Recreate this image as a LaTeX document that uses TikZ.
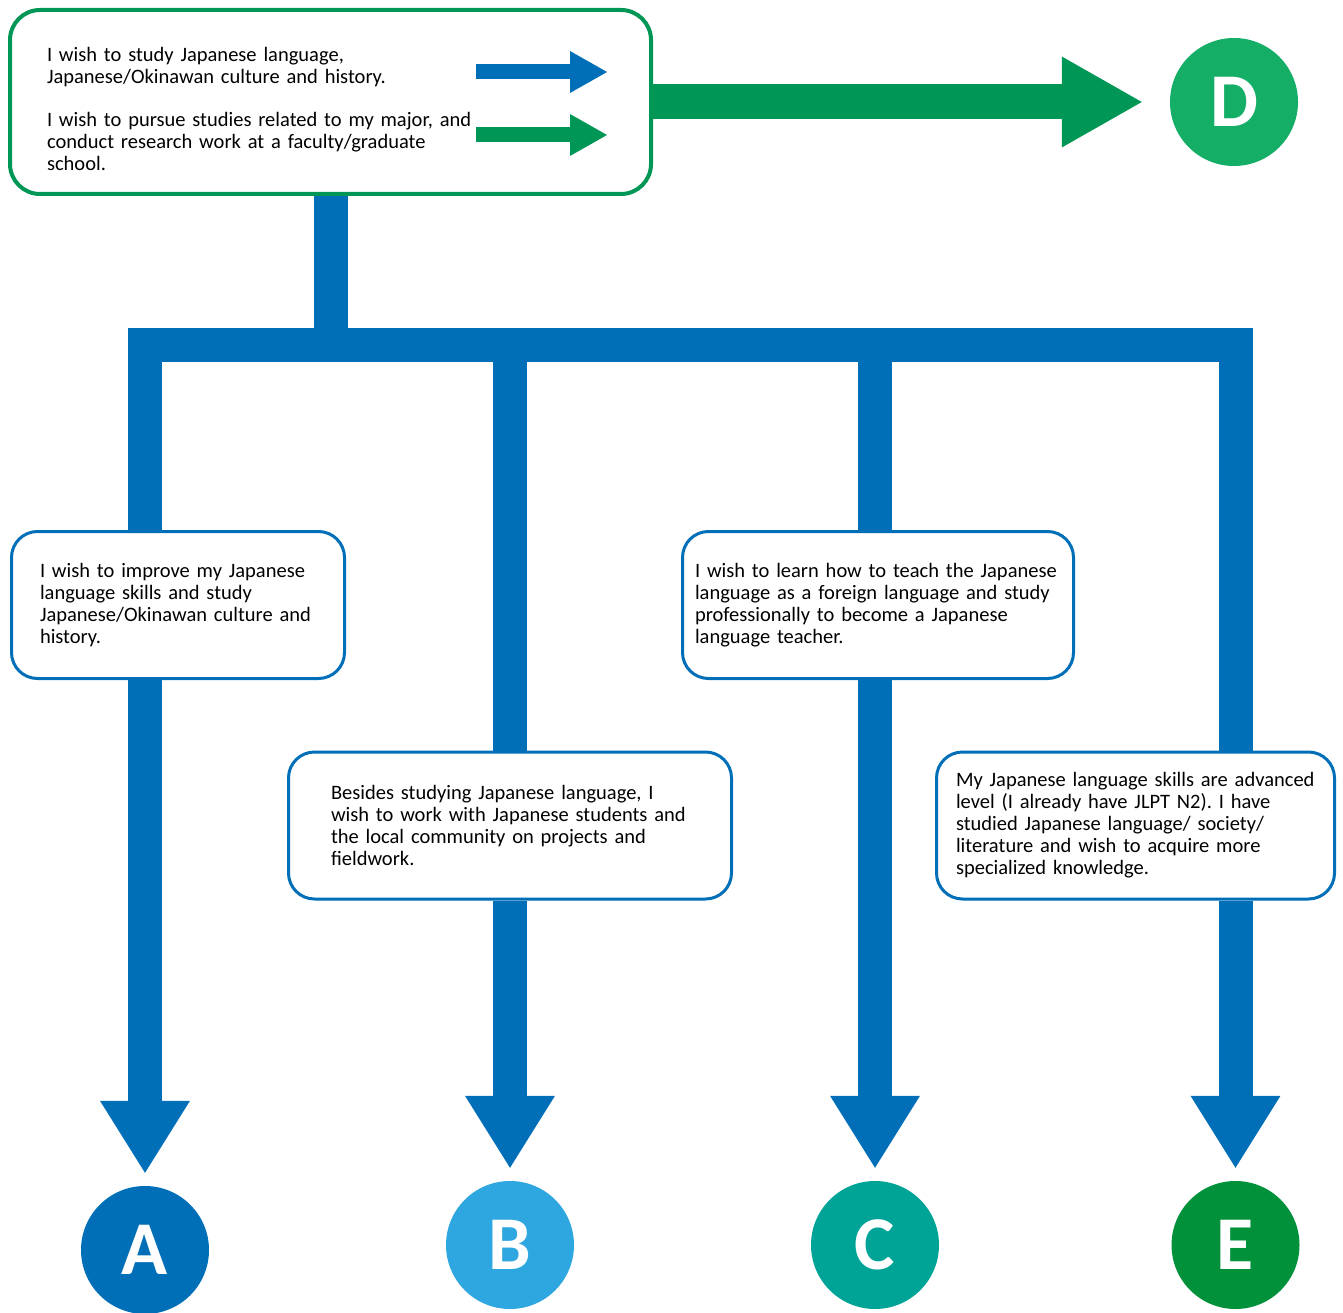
\documentclass[tikz,border=0pt]{standalone}
\usepackage{fontspec}
\setmainfont{Carlito}
\usetikzlibrary{arrows.meta}
\definecolor{jblue}{RGB}{0,111,184}
\definecolor{jgreen}{RGB}{0,150,85}
\definecolor{dgreen}{RGB}{21,174,103}
\definecolor{lblue}{RGB}{46,167,224}
\definecolor{cteal}{RGB}{0,164,151}
\definecolor{egreen}{RGB}{0,145,58}
\frenchspacing
\hyphenpenalty=10000

\begin{document}
\begin{tikzpicture}[x=1pt, y=-1pt,
  every node/.style={align=left, font=\fontsize{20.5}{22}\selectfont},
  wish/.style={draw=jblue, line width=3pt, rounded corners=26pt, fill=white, minimum height=147pt},
  goal/.style={circle, minimum size=128pt, inner sep=0pt, text=white, font=\fontsize{76}{76}\bfseries\selectfont},
  pipe/.style={jblue, line width=34pt},
  down/.style={pipe, -{Triangle[width=90pt, length=72pt, line width=0pt]}, shorten >=13pt}]
\useasboundingbox (0,0) rectangle (1343,1313);

\node[draw=jgreen, line width=4pt, rounded corners=30pt, text width=567pt, inner xsep=37pt, minimum height=184pt] (top) at (330.5,102)
  {\rule{0pt}{28pt}I wish to study Japanese language,\\ Japanese/Okinawan culture and history.\\[21pt]
   I wish to pursue studies related to my major, and\\ conduct research work at a faculty/graduate\\ school.};
\coordinate (bs) at (476,72);  \coordinate (be) at (607,72);
\coordinate (gs) at (476,135); \coordinate (ge) at (607,135);
\draw[jblue, line width=15pt, -{Triangle[width=42pt, length=37pt, line width=0pt]}] (bs) -- (be);
\draw[jgreen, line width=15pt, -{Triangle[width=42pt, length=37pt, line width=0pt]}] (gs) -- (ge);

\node[goal, fill=dgreen] (D) at (1234,102) {D};
\node[goal, fill=jblue]  (A) at (145,1250) {A};
\node[goal, fill=lblue]  (B) at (510,1245) {B};
\node[goal, fill=cteal]  (C) at (875,1245) {C};
\node[goal, fill=egreen] (E) at (1235.5,1245) {E};

\node[wish, text width=276pt, inner xsep=28.5pt] (wa) at (178,605)
  {I wish to improve my Japanese\\ language skills and study\\ Japanese/Okinawan culture and\\ history.};
\node[wish, text width=358pt, inner xsep=42.5pt] (wb) at (510,825.5)
  {Besides studying Japanese language, I\\ wish to work with Japanese students and\\ the local community on projects and\\ fieldwork.};
\node[wish, text width=366pt, inner xsep=12.5pt] (wc) at (878,605)
  {I wish to learn how to teach the Japanese\\ language as a foreign language and study\\ professionally to become a Japanese\\ language teacher.};
\node[wish, text width=359pt, inner xsep=19.5pt] (we) at (1135.5,825.5)
  {My Japanese language skills are advanced\\ level (I already have JLPT N2). I have\\ studied Japanese language/ society/\\ literature and wish to acquire more\\ specialized knowledge.};

\coordinate (bar) at (0,345);
\draw[jgreen, line width=35pt, -{Triangle[width=91pt, length=80pt, line width=0pt]}, shorten >=28pt] (top) -- (D);
\draw[pipe] (top.south) -- (top.south |- bar);
\draw[pipe] (A |- wa.north) -- (A |- bar) -- (E |- bar) -- (E |- we.north);
\draw[pipe] (B |- bar) -- (B |- wb.north);
\draw[pipe] (C |- bar) -- (C |- wc.north);
\draw[down] (A |- wa.south) -- (A);
\draw[down] (B |- wb.south) -- (B);
\draw[down] (C |- wc.south) -- (C);
\draw[down] (E |- we.south) -- (E);
\end{tikzpicture}
\end{document}
